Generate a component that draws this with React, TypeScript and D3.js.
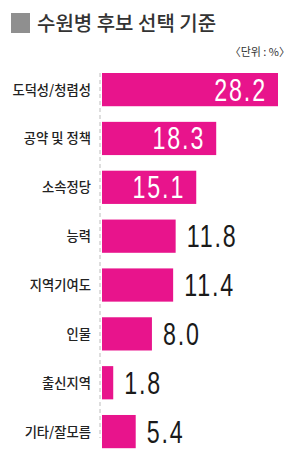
import React from "react";
import * as d3 from "d3";

const title = "수원병 후보 선택 기준";
const unitLabel = "〈단위 : %〉";
const categories = ["도덕성/청렴성", "공약 및 정책", "소속정당", "능력", "지역기여도", "인물", "출신지역", "기타/잘모름"];
const values = [28.2, 18.3, 15.1, 11.8, 11.4, 8.0, 1.8, 5.4];
const insideCount = 3;

export default function App() {
  const W = 300, H = 461;
  const x0 = 102;
  const x = d3.scaleLinear().domain([0, 28.2]).range([x0, 278]);
  const y = d3.scaleBand().domain(categories).range([73, 73 + 46.9 * 8]).paddingInner(0.32).paddingOuter(0);
  const bw = y.bandwidth();
  const numFont = "'Liberation Sans', Arial, sans-serif";
  const kFont = "'Noto Sans CJK KR', 'Noto Sans', sans-serif";
  const sx = 0.75;
  return (
    <svg width={W} height={H} style={{ position: "absolute", left: 0, top: 0, background: "#fff" }}>
      <rect x={11} y={13} width={19} height={20} fill="#8f8f8f" />
      <text x={37} y={31} fontFamily={kFont} fontSize={20} fontWeight={500} fill="#333">{title}</text>
      <text x={290} y={56} textAnchor="end" fontFamily={kFont} fontSize={11} fill="#333">{unitLabel}</text>
      <line x1={x0 - 2} x2={x0 - 2} y1={73} y2={438} stroke="#c8c8c8" strokeWidth={1.2} strokeDasharray="4,3" />
      {categories.map((c, i) => {
        const v = values[i];
        const yy = y(c)!;
        const inside = i < insideCount;
        const tx = inside ? x(v) - 11 : x(v) + 11;
        return (
          <g key={c}>
            <text x={91} y={yy + bw / 2 + 5} textAnchor="end" fontFamily={kFont} fontSize={13.3} fontWeight={500} fill="#222">{c}</text>
            <rect x={x0} y={yy} width={x(v) - x0} height={bw} fill="#E8148C" />
            <g transform={`translate(${tx},${yy + bw / 2 + 11}) scale(${sx},1)`}>
              <text
                x={0}
                y={0}
                textAnchor={inside ? "end" : "start"}
                fontFamily={numFont}
                fontSize={31}
                letterSpacing={2.5}
                fill={inside ? "#fff" : "#1a1a1a"}
              >
                {v.toFixed(1)}
              </text>
            </g>
          </g>
        );
      })}
    </svg>
  );
}
